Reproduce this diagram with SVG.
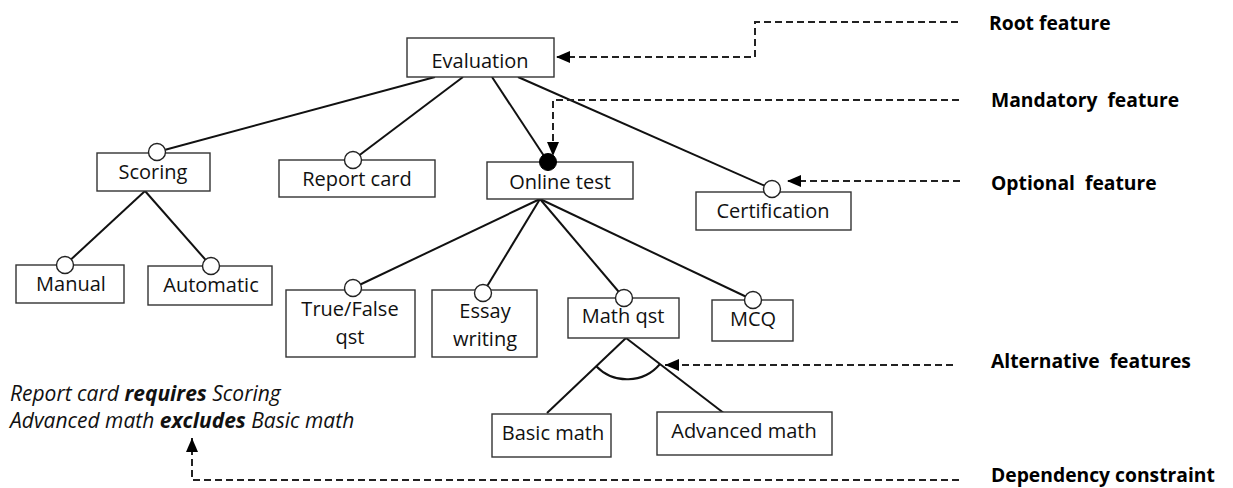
<svg xmlns="http://www.w3.org/2000/svg" width="1233" height="488" viewBox="0 0 1233 488">
  <style>
    .box { fill: #fff; stroke: #333; stroke-width: 1.4; }
    .lbl { font-family: "Open Sans", "Noto Sans", sans-serif; font-size: 20px; fill: #111; text-anchor: middle; }
    .edge { stroke: #111; stroke-width: 2; fill: none; }
    .opt { fill: #fff; stroke: #222; stroke-width: 1.4; }
    .man { fill: #000; stroke: #000; stroke-width: 1; }
    .call { stroke: #222; stroke-width: 2; stroke-dasharray: 7 4; fill: none; }
    .leg { font-family: "Open Sans", "Noto Sans", sans-serif; font-size: 19.3px; font-weight: bold; fill: #000; white-space: pre; }
    .rule { font-family: "Open Sans", "Noto Sans", sans-serif; font-size: 21px; font-style: italic; fill: #111; white-space: pre; }
  </style>
  <defs>
    <marker id="tip" viewBox="0 0 14 12" refX="14" refY="6" markerWidth="14" markerHeight="12" markerUnits="userSpaceOnUse" orient="auto">
      <path d="M0,0 L14,6 L0,12 Z" fill="#000"/>
    </marker>
  </defs>

  <!-- tree edges -->
  <g id="connectors">
    <line class="edge" x1="435" y1="77" x2="157" y2="152"/>
    <line class="edge" x1="463" y1="77" x2="353" y2="160"/>
    <line class="edge" x1="492" y1="77" x2="548" y2="162"/>
    <line class="edge" x1="518" y1="77" x2="772" y2="189"/>
    <line class="edge" x1="145" y1="191" x2="65" y2="265"/>
    <line class="edge" x1="145" y1="191" x2="211" y2="266"/>
    <line class="edge" x1="540" y1="199" x2="353" y2="288"/>
    <line class="edge" x1="540" y1="199" x2="483" y2="293"/>
    <line class="edge" x1="540" y1="199" x2="624" y2="298"/>
    <line class="edge" x1="540" y1="199" x2="753" y2="300"/>
    <line class="edge" x1="626" y1="338" x2="547" y2="413"/>
    <line class="edge" x1="626" y1="338" x2="725" y2="414"/>
    <!-- alternative group arc -->
    <path class="edge" d="M596,366 A43,43 0 0 0 660,364"/>
  </g>

  <!-- nodes -->
  <g id="evaluation">
    <rect class="box" x="407" y="38" width="147" height="39"/>
    <text class="lbl" x="480" y="68">Evaluation</text>
  </g>
  <g id="scoring">
    <rect class="box" x="97" y="153" width="113" height="38"/>
    <text class="lbl" x="153" y="179">Scoring</text>
    <circle class="opt" cx="157" cy="152" r="8.5"/>
  </g>
  <g id="report-card">
    <rect class="box" x="279" y="160" width="156" height="37"/>
    <text class="lbl" x="357" y="186">Report card</text>
    <circle class="opt" cx="353" cy="160" r="8.5"/>
  </g>
  <g id="online-test">
    <rect class="box" x="487" y="162" width="146" height="37"/>
    <text class="lbl" x="560" y="189">Online test</text>
    <circle class="man" cx="548" cy="162" r="8.5"/>
  </g>
  <g id="certification">
    <rect class="box" x="696" y="192" width="155" height="38"/>
    <text class="lbl" x="773" y="218">Certification</text>
    <circle class="opt" cx="772" cy="189" r="8.5"/>
  </g>
  <g id="manual">
    <rect class="box" x="16" y="265" width="108" height="38"/>
    <text class="lbl" x="71" y="291">Manual</text>
    <circle class="opt" cx="65" cy="265" r="8.5"/>
  </g>
  <g id="automatic">
    <rect class="box" x="148" y="266" width="124" height="39"/>
    <text class="lbl" x="211" y="292">Automatic</text>
    <circle class="opt" cx="211" cy="266" r="8.5"/>
  </g>
  <g id="true-false-qst">
    <rect class="box" x="286" y="290" width="129" height="67"/>
    <text class="lbl" x="350" y="316">True/False</text>
    <text class="lbl" x="350" y="344">qst</text>
    <circle class="opt" cx="353" cy="288" r="8.5"/>
  </g>
  <g id="essay-writing">
    <rect class="box" x="432" y="290" width="105" height="67"/>
    <text class="lbl" x="485" y="318">Essay</text>
    <text class="lbl" x="485" y="346">writing</text>
    <circle class="opt" cx="483" cy="293" r="8.5"/>
  </g>
  <g id="math-qst">
    <rect class="box" x="568" y="298" width="111" height="40"/>
    <text class="lbl" x="623" y="323">Math qst</text>
    <circle class="opt" cx="624" cy="298" r="8.5"/>
  </g>
  <g id="mcq">
    <rect class="box" x="712" y="300" width="81" height="41"/>
    <text class="lbl" x="753" y="326">MCQ</text>
    <circle class="opt" cx="753" cy="300" r="8.5"/>
  </g>
  <g id="basic-math">
    <rect class="box" x="492" y="414" width="119" height="43"/>
    <text class="lbl" x="553" y="440">Basic math</text>
  </g>
  <g id="advanced-math">
    <rect class="box" x="657" y="412" width="175" height="43"/>
    <text class="lbl" x="744" y="438">Advanced math</text>
  </g>

  <!-- cross-tree constraints -->
  <g id="constraints">
    <text class="rule" x="10" y="401">Report card <tspan font-weight="bold">requires</tspan> Scoring</text>
    <text class="rule" x="10" y="428">Advanced math <tspan font-weight="bold">excludes</tspan> Basic math</text>
  </g>

  <!-- legend callouts -->
  <g id="legend">
    <path class="call" d="M958,22 H755 V57 H556" marker-end="url(#tip)"/>
    <path class="call" d="M959,100 H553 V156" marker-end="url(#tip)"/>
    <path class="call" d="M960,181 H787" marker-end="url(#tip)"/>
    <path class="call" d="M953,365 H665" marker-end="url(#tip)"/>
    <path class="call" d="M959,480 H192 V438" marker-end="url(#tip)"/>
    <text class="leg" x="989" y="30">Root feature</text>
    <text class="leg" x="991" y="107">Mandatory  feature</text>
    <text class="leg" x="991" y="190">Optional  feature</text>
    <text class="leg" x="991" y="368">Alternative  features</text>
    <text class="leg" x="991" y="482">Dependency constraint</text>
  </g>
</svg>
